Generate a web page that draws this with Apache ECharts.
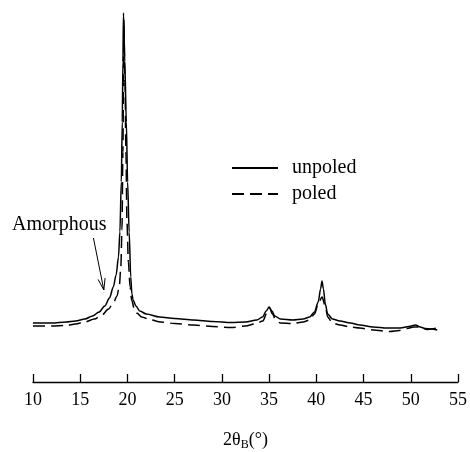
<!DOCTYPE html>
<html>
<head>
<meta charset="utf-8">
<script src="https://cdn.jsdelivr.net/npm/echarts@6/dist/echarts.min.js"></script>
<style>html,body{margin:0;padding:0;background:#fff}#c{width:470px;height:452px}</style>
</head>
<body>
<div id="c"></div>
<script>
// 2θ (deg), relative intensity (arb. units)
var xTicks = [10, 15, 20, 25, 30, 35, 40, 45, 50, 55];
var unpoled = [[10,59],[12,59],[13.5,60],[14.5,61],[15.5,63],[16.3,66],[17.0,70],[17.6,76],[18.1,84],[18.5,95],[18.8,107],[19.05,125],[19.2,150],[19.35,200],[19.45,260],[19.52,320],[19.58,369],[19.72,320],[19.88,260],[20.02,200],[20.18,150],[20.35,105],[20.47,88],[20.6,82],[20.9,76],[21.3,71],[22.0,68],[23.4,65],[25,63.5],[27,62],[29,60.5],[31,59.5],[32.5,60],[33.7,62],[34.3,65],[34.7,71],[35.0,75],[35.3,71],[35.6,66],[36.2,63],[37.5,62],[38.6,63],[39.3,65],[39.8,70],[40.2,80],[40.45,93],[40.6,101],[40.75,93],[40.95,78],[41.2,68],[41.7,63],[42.5,61],[43.6,59],[44.6,57],[46,55],[47.5,54],[48.9,54],[49.8,55.5],[50.5,57],[51.0,55],[51.5,53.5],[52.2,53],[52.8,52]];
var poled = [[10,56],[12,56],[13.5,56.5],[14.5,58],[15.5,60],[16.5,63],[17.3,67],[18.0,73],[18.5,79],[18.9,86],[19.15,97],[19.3,115],[19.42,152],[19.52,230],[19.58,300],[19.62,362],[19.74,300],[19.84,230],[19.95,160],[20.1,120],[20.28,95],[20.45,82],[20.7,74],[21.0,69],[21.5,65],[22.5,62],[23.5,60],[25,58.5],[27,57],[29,55.5],[31,54.5],[32.5,56],[33.5,58],[34.35,61],[34.7,68],[35.05,74],[35.35,68],[35.7,62],[36.2,59],[37.5,58.5],[38.6,60],[39.3,62],[39.8,68],[40.2,78],[40.6,85],[40.95,76],[41.2,65],[41.7,59],[42.5,57],[43.6,55],[44.6,54],[46,52],[47.8,50.5],[48.8,51.5],[49.6,53.5],[50.3,55],[51.0,55],[51.7,52.5],[52.2,53],[52.8,54]];
var seriesNames = ['unpoled', 'poled'];
var arrowFrom = [16.4, 144], arrowTo = [17.5, 92];

var serif = 'Liberation Serif';
var chart = echarts.init(document.getElementById('c'), null, {renderer: 'canvas'});
chart.setOption({
  backgroundColor: '#fff',
  animation: false,
  grid: {left: 33, right: 12, top: 12, bottom: 70, containLabel: false, outerBoundsMode: 'none'},
  legend: {
    orient: 'vertical', left: 226, top: 153, itemWidth: 46, itemHeight: 14, itemGap: 6,
    data: seriesNames,
    itemStyle: {opacity: 0},
    textStyle: {fontFamily: serif, fontSize: 20, color: '#000', padding: [0,0,0,9]}
  },
  xAxis: {
    type: 'value', min: 10, max: 55, interval: 5,
    axisLine: {show: true, onZero: false, lineStyle: {color: '#000', width: 1.3}},
    axisTick: {show: true, inside: true, length: 8, lineStyle: {color: '#000', width: 1.3}},
    axisLabel: {fontFamily: serif, fontSize: 18, color: '#000', margin: 9},
    splitLine: {show: false},
    name: '{a|2θ}{b|B}{a|(°)}', nameLocation: 'middle', nameGap: 48,
    nameTextStyle: {rich: {
      a: {fontFamily: serif, fontSize: 18, color: '#000'},
      b: {fontFamily: serif, fontSize: 12, color: '#000', padding: [9,0,0,0]}
    }}
  },
  yAxis: {type: 'value', min: 0, max: 370, show: false},
  series: [
    {name: seriesNames[0], type: 'line', data: unpoled, symbol: 'none', smooth: 0.3, smoothMonotone: 'x',
     lineStyle: {color: '#000', width: 1.5, type: 'solid'}, itemStyle: {color: '#000'}},
    {name: seriesNames[1], type: 'line', data: poled, symbol: 'none', smooth: 0.3, smoothMonotone: 'x',
     lineStyle: {color: '#000', width: 1.5, type: [12, 6]}, itemStyle: {color: '#000'}}
  ]
});
var p0 = chart.convertToPixel({gridIndex: 0}, arrowFrom);
var p1 = chart.convertToPixel({gridIndex: 0}, arrowTo);
var ang = Math.atan2(p1[1]-p0[1], p1[0]-p0[0]);
var hl = 12, ha = 0.3;
chart.setOption({
  graphic: [
    {type: 'text', left: 12, top: 215, style: {text: 'Amorphous', fontFamily: serif, fontSize: 20, fill: '#000'}},
    {type: 'line', shape: {x1: p0[0], y1: p0[1], x2: p1[0], y2: p1[1]}, style: {stroke: '#000', lineWidth: 1}},
    {type: 'polyline', shape: {points: [
      [p1[0] - hl*Math.cos(ang - ha), p1[1] - hl*Math.sin(ang - ha)],
      [p1[0], p1[1]],
      [p1[0] - hl*Math.cos(ang + ha), p1[1] - hl*Math.sin(ang + ha)]
    ]}, style: {stroke: '#000', lineWidth: 1, fill: null}}
  ]
});
</script>
</body>
</html>
